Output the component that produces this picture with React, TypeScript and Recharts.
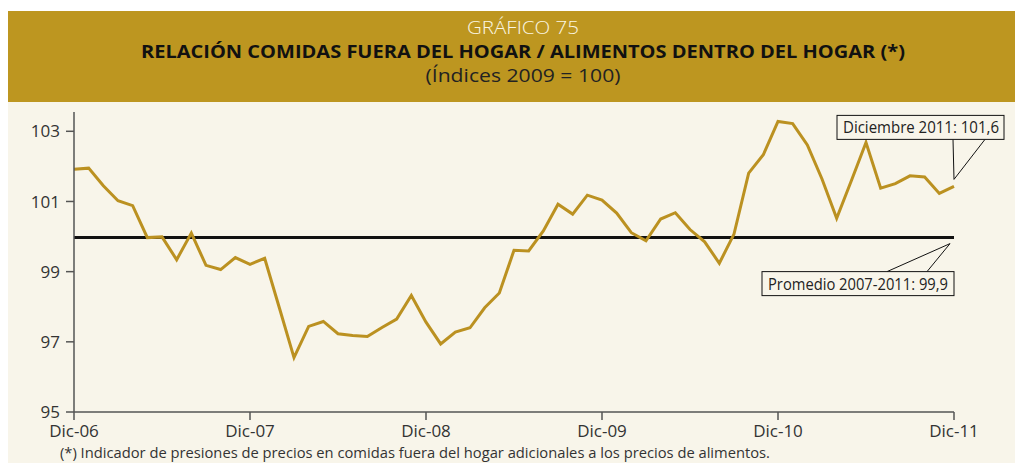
import { LineChart, Line, XAxis, YAxis, ReferenceLine, ReferenceDot } from "recharts";

const months = [
  "Dic-06",
  "Ene-07", "Feb-07", "Mar-07", "Abr-07", "May-07", "Jun-07", "Jul-07", "Ago-07", "Sep-07", "Oct-07", "Nov-07", "Dic-07",
  "Ene-08", "Feb-08", "Mar-08", "Abr-08", "May-08", "Jun-08", "Jul-08", "Ago-08", "Sep-08", "Oct-08", "Nov-08", "Dic-08",
  "Ene-09", "Feb-09", "Mar-09", "Abr-09", "May-09", "Jun-09", "Jul-09", "Ago-09", "Sep-09", "Oct-09", "Nov-09", "Dic-09",
  "Ene-10", "Feb-10", "Mar-10", "Abr-10", "May-10", "Jun-10", "Jul-10", "Ago-10", "Sep-10", "Oct-10", "Nov-10", "Dic-10",
  "Ene-11", "Feb-11", "Mar-11", "Abr-11", "May-11", "Jun-11", "Jul-11", "Ago-11", "Sep-11", "Oct-11", "Nov-11", "Dic-11",
];

const ratio = [
  101.92, 101.95, 101.45, 101.02, 100.88, 99.97, 99.99, 99.34, 100.1, 99.18, 99.06, 99.4, 99.21,
  99.38, 97.97, 96.55, 97.44, 97.58, 97.23, 97.18, 97.15, 97.41, 97.65, 98.32, 97.56,
  96.94, 97.28, 97.4, 97.97, 98.39, 99.61, 99.59, 100.16, 100.92, 100.64, 101.18, 101.04,
  100.67, 100.11, 99.88, 100.5, 100.68, 100.2, 99.85, 99.24, 100.07, 101.81, 102.33, 103.28,
  103.22, 102.61, 101.64, 100.52, 101.59, 102.68, 101.38, 101.51, 101.73, 101.7, 101.23, 101.43,
];

const xTicks = ["Dic-06", "Dic-07", "Dic-08", "Dic-09", "Dic-10", "Dic-11"];
const yTicks = [95, 97, 99, 101, 103];
const promedio = 99.97;

const data = ratio.map((v, i) => ({ mes: i, label: months[i], valor: v }));
const xTickPos = xTicks.map((t) => months.indexOf(t));

const FONT = '"Open Sans", "Noto Sans", sans-serif';
const GOLD = "#BD9620";
const LINE = "#BB9121";
const CREAM = "#F8F5EA";
const AXIS = "#555";

function AvgLabel(props: any) {
  const vb = props.viewBox || {};
  const right = vb.x + vb.width;
  const y = vb.y;
  const top = y + 34;
  return (
    <g>
      <polyline
        points={`${right - 67},${top} ${right - 4},${y + 6} ${right - 27},${top}`}
        fill="none"
        stroke="#111"
        strokeWidth={1}
      />
      <rect x={right - 192} y={top} width={192} height={24} fill={CREAM} stroke="#111" strokeWidth={1} />
      <text x={right - 186} y={top + 18} fontFamily={FONT} fontSize={15.5} fill="#222" textLength={180} lengthAdjust="spacingAndGlyphs">
        Promedio 2007-2011: 99,9
      </text>
    </g>
  );
}

function LastCallout(props: any) {
  const { cx, cy } = props;
  const top = cy - 71;
  return (
    <g>
      <polyline
        points={`${cx - 1},${top + 24} ${cx},${cy - 7} ${cx + 31},${top + 24}`}
        fill="none"
        stroke="#111"
        strokeWidth={1}
      />
      <rect x={cx - 117} y={top} width={167} height={24} fill={CREAM} stroke="#111" strokeWidth={1} />
      <text x={cx - 111} y={top + 18} fontFamily={FONT} fontSize={15.5} fill="#222" textLength={156} lengthAdjust="spacingAndGlyphs">
        Diciembre 2011: 101,6
      </text>
    </g>
  );
}

export default function App() {
  return (
    <div style={{ position: "absolute", left: 0, top: 0, width: 1015, height: 463, background: "#fff", overflow: "hidden" }}>
      <div style={{ position: "absolute", left: 8, top: 11, width: 1007, height: 91, background: GOLD }} />
      <div style={{ position: "absolute", left: 8, top: 102, width: 1007, height: 361, background: CREAM }} />
      <svg width={1015} height={463} style={{ position: "absolute", left: 0, top: 0 }}>
        <text x={523} y={34} textAnchor="middle" fontFamily={FONT} fontWeight={300} fontSize={18.5} fill="#FBF6E4" textLength={112} lengthAdjust="spacingAndGlyphs">
          GRÁFICO 75
        </text>
        <text x={523} y={58} textAnchor="middle" fontFamily={FONT} fontWeight={700} fontSize={18} fill="#111" textLength={764} lengthAdjust="spacingAndGlyphs">
          RELACIÓN COMIDAS FUERA DEL HOGAR / ALIMENTOS DENTRO DEL HOGAR (*)
        </text>
        <text x={523} y={82} textAnchor="middle" fontFamily={FONT} fontSize={18} fill="#222" textLength={195} lengthAdjust="spacingAndGlyphs">
          (Índices 2009 = 100)
        </text>
        <text x={60} y={458} fontFamily={FONT} fontSize={14} fill="#333" textLength={710} lengthAdjust="spacingAndGlyphs">
          (*) Indicador de presiones de precios en comidas fuera del hogar adicionales a los precios de alimentos.
        </text>
      </svg>
      <div style={{ position: "absolute", left: 0, top: 0 }}>
        <LineChart width={1015} height={463} data={data} margin={{ top: 112, right: 61, bottom: 0, left: 8 }}>
          <XAxis
            dataKey="mes"
            type="number"
            domain={[0, months.length - 1]}
            ticks={xTickPos}
            tickFormatter={(v: number) => months[v]}
            height={51}
            tickSize={8}
            tickMargin={5}
            interval={0}
            axisLine={{ stroke: AXIS, strokeWidth: 1.5 }}
            tickLine={{ stroke: AXIS, strokeWidth: 1.5 }}
            tick={{ fontFamily: FONT, fontSize: 17, fill: "#333" }}
          />
          <YAxis
            type="number"
            domain={[95, 103.55]}
            ticks={yTicks}
            allowDataOverflow
            width={66}
            tickSize={8}
            tickMargin={6}
            interval={0}
            axisLine={{ stroke: AXIS, strokeWidth: 1.5 }}
            tickLine={{ stroke: AXIS, strokeWidth: 1.5 }}
            tick={{ fontFamily: FONT, fontSize: 17, fill: "#333" }}
          />
          <ReferenceLine y={promedio} stroke="#111" strokeWidth={3} label={(p: any) => <AvgLabel {...p} />} />
          <Line
            type="linear"
            dataKey="valor"
            stroke={LINE}
            strokeWidth={3}
            dot={false}
            activeDot={false}
            isAnimationActive={false}
          />
          <ReferenceDot
            x={ratio.length - 1}
            y={ratio[ratio.length - 1]}
            r={0}
            shape={(p: any) => <LastCallout {...p} />}
          />
        </LineChart>
      </div>
    </div>
  );
}
